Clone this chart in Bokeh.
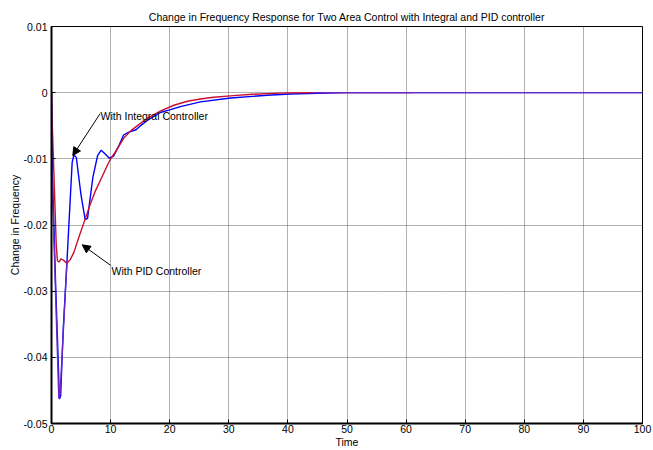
import math
from bokeh.plotting import figure
from bokeh.models import FixedTicker, Arrow, NormalHead, Label, Range1d
from bokeh.embed import file_html
from bokeh.resources import INLINE

TITLE = "Change in Frequency Response for Two Area Control with Integral and PID controller"
X_LABEL = "Time"
Y_LABEL = "Change in Frequency"

x_ticks = [0, 10, 20, 30, 40, 50, 60, 70, 80, 90, 100]
y_ticks = [0.01, 0.0, -0.01, -0.02, -0.03, -0.04, -0.05]
y_tick_labels = ["0.01", "0", "-0.01", "-0.02", "-0.03", "-0.04", "-0.05"]

# Integral controller (blue)
t_int = [0, 0.15, 0.7, 1.35, 1.55, 2.0, 2.6, 3.0, 3.5, 3.8, 4.2, 5.0, 5.7, 6.1, 7.0, 7.8, 8.4,
         9.0, 9.8, 10.5, 11.3, 12.2, 13.0, 14.3, 15.2, 16.2, 18.4, 20.0, 21.8, 25.2, 30.3,
         36.5, 40.4, 45.0, 50.0, 60.0, 70.0, 80.0, 90.0, 100.0]
v_int = [0, -0.012, -0.029, -0.0463, -0.0458, -0.0355, -0.0258, -0.019, -0.0105, -0.0094,
         -0.0098, -0.0155, -0.0192, -0.019, -0.0128, -0.0095, -0.0087, -0.0092, -0.0099,
         -0.0096, -0.0082, -0.0064, -0.006, -0.0056, -0.0049, -0.0042, -0.003, -0.0026,
         -0.0021, -0.0014, -0.0008, -0.0004, -0.0002, -0.0001, 0, 0, 0, 0, 0, 0]

# PID controller (red)
t_pid = [0, 0.1, 0.4, 0.8, 1.0, 1.3, 1.6, 2.0, 2.6, 3.2, 3.8, 4.5, 5.5, 6.5, 7.45, 8.3, 9.6,
         10.0, 11.0, 12.2, 13.5, 15.1, 16.2, 18.4, 20.7, 23.0, 25.2, 27.4, 30.8, 34.0, 37.6,
         40.0, 45.0, 61.0]
v_pid = [0, -0.004, -0.012, -0.023, -0.0254, -0.0256, -0.0251, -0.0253, -0.0258, -0.0252,
         -0.0241, -0.0222, -0.0196, -0.017, -0.0148, -0.0132, -0.0107, -0.0100, -0.0087,
         -0.0069, -0.0057, -0.0046, -0.0039, -0.0028, -0.0019, -0.0013, -0.00095, -0.0007,
         -0.00045, -0.00025, -0.0001, -0.00003, 0, 0]

# overlapping trace (purple)
t_mix = [0, 0.1, 1.24, 1.45, 2.6, float("nan"), 44.0, 100.0]
v_mix = [0, -0.0133, -0.0462, -0.0455, -0.0258, float("nan"), 0, 0]

# annotations: text position and arrow tail/tip (data units)
note_int = dict(text="With Integral Controller", x=8.3, y=-0.0035, x0=8.2, y0=-0.0032, x1=3.6, y1=-0.0095)
note_pid = dict(text="With PID Controller", x=10.15, y=-0.027, x0=10.0, y0=-0.0261, x1=5.2, y1=-0.023)

FONT = "Liberation Sans"
FS = "10.5px"

p = figure(width=653, height=450, output_backend="svg", toolbar_location=None,
           x_range=Range1d(0, 100), y_range=Range1d(-0.05, 0.01),
           min_border_left=51, min_border_right=11, min_border_top=26, min_border_bottom=26,
           background_fill_color="white", border_fill_color="white")

p.title.text = TITLE
p.title.align = "center"
p.title.text_font = FONT
p.title.text_font_size = FS
p.title.text_font_style = "normal"
p.title.text_color = "black"
p.title.standoff = 8

p.outline_line_color = "black"
p.outline_line_width = 1
p.outline_line_alpha = 1

for ax in (p.xaxis, p.yaxis):
    ax.major_label_text_font = FONT
    ax.major_label_text_font_size = FS
    ax.major_label_text_color = "black"
    ax.axis_label_text_font = FONT
    ax.axis_label_text_font_size = FS
    ax.axis_label_text_font_style = "normal"
    ax.axis_label_text_color = "black"
    ax.axis_line_color = "black"
    ax.axis_line_width = 2
    ax.major_tick_in = 4
    ax.major_tick_out = 0
    ax.major_tick_line_color = "black"
    ax.minor_tick_line_color = None
    ax.axis_label_standoff = 0

p.xaxis.ticker = FixedTicker(ticks=x_ticks)
p.yaxis.ticker = FixedTicker(ticks=y_ticks)
p.yaxis.major_label_overrides = {v: s for v, s in zip(y_ticks, y_tick_labels)}
p.xaxis.major_label_standoff = 1
p.yaxis.major_label_standoff = 4
p.xaxis.axis_label = X_LABEL
p.yaxis.axis_label = Y_LABEL

for g in (p.xgrid, p.ygrid):
    g.grid_line_color = "#404040"
    g.grid_line_dash = "1 1"
    g.grid_line_width = 1
    g.grid_line_alpha = 0.8

p.line(t_int, v_int, line_color="#0000ff", line_width=1.4)
p.line(t_pid, v_pid, line_color="#c8102e", line_width=1.4)
p.line(t_mix, v_mix, line_color="#6a28c8", line_width=1.4)

for n in (note_int, note_pid):
    p.add_layout(Label(x=n["x"], y=n["y"], text=n["text"], text_font=FONT, text_font_size=FS,
                       text_color="black", text_baseline="middle", text_align="left"))
    p.add_layout(Arrow(end=NormalHead(size=8, fill_color="black", line_color="black"),
                       x_start=n["x0"], y_start=n["y0"], x_end=n["x1"], y_end=n["y1"],
                       line_color="black", line_width=1))

open("out.html", "w").write(file_html(p, INLINE))
